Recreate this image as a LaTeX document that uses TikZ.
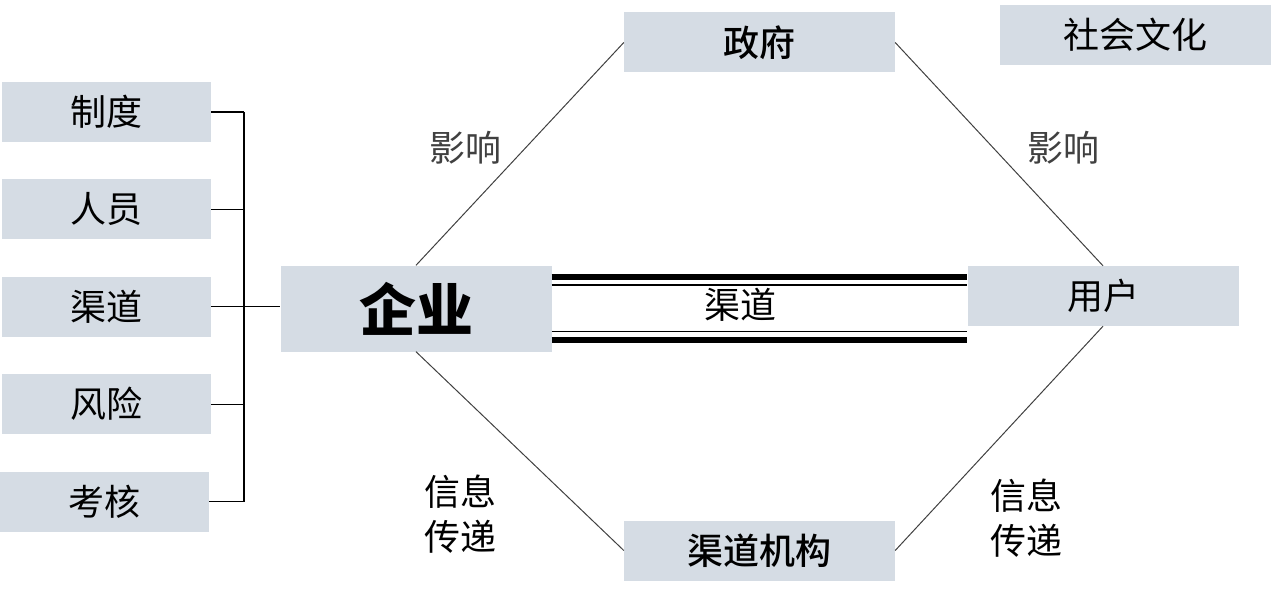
\documentclass[tikz,border=0pt]{standalone}
\usepackage{fontspec}
\setmainfont{Noto Sans CJK SC}
\newfontfamily\medfont{Noto Sans CJK SC Medium}
\usetikzlibrary{positioning, calc}
\definecolor{boxgray}{RGB}{213,220,228}

\begin{document}
\begin{tikzpicture}[
  x=1pt, y=-1pt,
  font=\fontsize{36}{45}\selectfont,
  node distance=37pt,
  factor/.style={fill=boxgray, minimum width=209pt, minimum height=60pt, inner sep=0pt},
  actor/.style={fill=boxgray, minimum width=271pt, minimum height=60pt, inner sep=0pt},
  strong/.style={font=\fontsize{36}{45}\medfont},
  note/.style={inner sep=0pt, align=center},
  link/.style={line width=1pt, black!75},
  tie/.style={line width=1.2pt},
  rail/.style={line width=6pt},
  thinrail/.style={line width=1.8pt}
]
\useasboundingbox (0,0) rectangle (1271,596);

\node[actor, minimum height=86pt, font=\fontsize{57}{60}\selectfont\bfseries] (qiye) at (416,308.5) {企业};
\node[actor] (yonghu) at (1103,296) {用户};
\node[actor, strong] (zhengfu) at (759.5,42.5) {政府};
\node[actor, strong] (jigou) at (759.5,550.5) {渠道机构};
\node[actor] (wenhua) at (1135.5,35) {社会文化};

\node[factor] (zhidu) at (106.5,112) {制度};
\node[factor, below=of zhidu] (renyuan) {人员};
\node[factor, below=of renyuan] (qudao) {渠道};
\node[factor, below=of qudao] (fengxian) {风险};
\node[factor, below=of fengxian, xshift=-2pt] (kaohe) {考核};

% channel between enterprise and users
\coordinate (railA) at ([yshift=31.5pt]qiye.east);
\coordinate (railB) at ([yshift=23.5pt]qiye.east);
\coordinate (railC) at ([yshift=-23pt]qiye.east);
\coordinate (railD) at ([yshift=-31.5pt]qiye.east);
\draw[rail] (railA) -- (railA -| yonghu.west);
\draw[thinrail] (railB) -- (railB -| yonghu.west);
\draw[thinrail] (railC) -- (railC -| yonghu.west);
\draw[rail] (railD) -- (railD -| yonghu.west);
\node (tongdao) at (740,305) {渠道};

\draw[link] (qiye.north) -- node[note, left=18pt, yshift=6pt] (yingxiangL) {影响} (zhengfu.west);
\draw[link] (zhengfu.east) -- node[note, right=28pt, yshift=6pt] (yingxiangR) {影响} (yonghu.north);
\draw[link] (qiye.south) -- (jigou.west);
\draw[link] (jigou.east) -- (yonghu.south);
\node[note] (xinxiL) at (460,514) {信息\\传递};
\node[note] (xinxiR) at (1026,518) {信息\\传递};

% bracket of the internal factors
\coordinate (spine) at (244,0);
\draw[tie] (zhidu.east) -- (zhidu.east -| spine);
\draw[tie] (renyuan.east) -- (renyuan.east -| spine);
\draw[tie] (fengxian.east) -- (fengxian.east -| spine);
\draw[tie] (kaohe.east) -- (kaohe.east -| spine);
\draw[tie] (zhidu.east -| spine) -- (kaohe.east -| spine);
\draw[tie] (qudao.east) -- (qudao.east -| qiye.west);
\end{tikzpicture}
\end{document}
